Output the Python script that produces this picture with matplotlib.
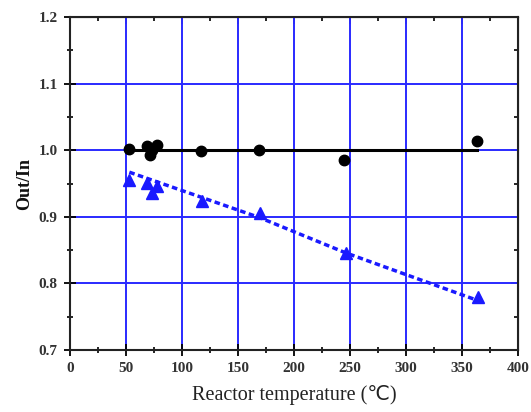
import matplotlib
matplotlib.use("Agg")
import matplotlib.pyplot as plt
from matplotlib.ticker import MultipleLocator

circle_x = [53, 69, 71, 73, 78, 117, 169, 245, 363]
circle_y = [1.002, 1.006, 0.993, 1.000, 1.008, 0.999, 1.001, 0.985, 1.014]
tri_x = [53, 69, 73, 78, 118, 170, 246, 364]
tri_y = [0.955, 0.951, 0.936, 0.946, 0.924, 0.906, 0.846, 0.780]
flat_x = [53, 363]
flat_y = [1.000, 1.000]
trend_x = [53, 169, 246, 363]
trend_y = [0.967, 0.899, 0.846, 0.775]

x_ticks = [0, 50, 100, 150, 200, 250, 300, 350, 400]
y_ticks = [0.7, 0.8, 0.9, 1.0, 1.1, 1.2]

fig = plt.figure(figsize=(5.31, 4.12), dpi=100)
ax = fig.add_axes([0.1318, 0.1505, 0.8437, 0.8082])

ax.set_xlim(0, 400)
ax.set_ylim(0.7, 1.2)
ax.set_xticks(x_ticks)
ax.set_yticks(y_ticks)
ax.set_xticklabels([str(v) for v in x_ticks])
ax.set_yticklabels([f"{v:.1f}" for v in y_ticks])
ax.xaxis.set_minor_locator(MultipleLocator(25))
ax.yaxis.set_minor_locator(MultipleLocator(0.05))
ax.grid(True, which='major', color='#2a2aff', linewidth=1.4)
ax.set_axisbelow(True)

ax.plot(flat_x, flat_y, color='black', linewidth=2.2, zorder=3)
ax.plot(trend_x, trend_y, color='#1a1aff', linewidth=2.5, linestyle=(0, (1.6, 1.0)), zorder=3)
ax.plot(circle_x, circle_y, 'o', color='black', markersize=7.5, zorder=4)
ax.plot(tri_x, tri_y, '^', color='#1a1aff', markersize=8.5, zorder=4)

for s in ax.spines.values():
    s.set_linewidth(1.5)
    s.set_color('#222222')

ax.tick_params(which='both', direction='inout', top=False, right=False,
               labelsize=11, labelcolor='#333333', pad=5)
ax.tick_params(which='major', length=8, width=1.3)
ax.tick_params(which='minor', length=4, width=1.2)
for lab in ax.get_xticklabels() + ax.get_yticklabels():
    lab.set_family('Liberation Serif')
    lab.set_fontweight('bold')

secx = ax.secondary_xaxis('top')
secx.set_xticks(x_ticks)
secx.xaxis.set_minor_locator(MultipleLocator(25))
secx.tick_params(which='both', direction='in', labeltop=False)
secx.tick_params(which='major', length=5, width=1.2)
secx.tick_params(which='minor', length=3, width=1.2)
secy = ax.secondary_yaxis('right')
secy.set_yticks(y_ticks)
secy.yaxis.set_minor_locator(MultipleLocator(0.05))
secy.tick_params(which='both', direction='in', labelright=False)
secy.tick_params(which='major', length=5, width=1.2)
secy.tick_params(which='minor', length=3, width=1.2)

ax.set_xlabel('Reactor temperature (℃)', family=['Liberation Serif', 'DejaVu Sans'],
              fontsize=14.5, color='#222222', labelpad=7)
ax.set_ylabel('Out/In', family='Liberation Serif', fontweight='bold',
              fontsize=13, color='#111111', labelpad=4)

fig.savefig('out.png', dpi=100)
